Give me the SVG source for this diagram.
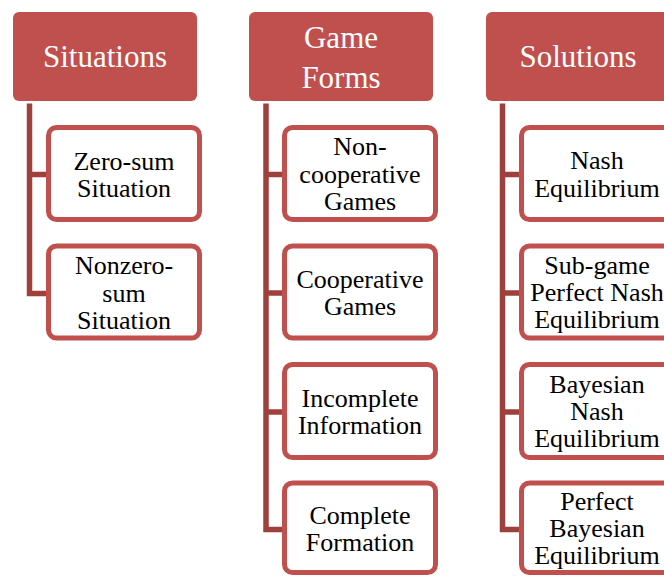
<svg xmlns="http://www.w3.org/2000/svg" width="664" height="576" viewBox="0 0 664 576">
  <style>
    .head rect { fill: #C0504D; }
    .item rect { fill: #FFFFFF; stroke: #C0504D; stroke-width: 5; }
    .links path { fill: none; stroke: #A0403D; stroke-width: 5.5; stroke-linejoin: miter; }
  </style>

  <rect width="664" height="576" fill="#FFFFFF"/>

  <!-- tree connectors: one spine per column with a branch to each item -->
  <g id="connectors" class="links">
    <path d="M29.5 103.5 V293.5 H48 M29.5 174.5 H48"/>
    <path d="M266 103.5 V529.5 H284 M266 174.5 H284 M266 293 H284 M266 412 H284"/>
    <path d="M502.5 103.5 V529.5 H521 M502.5 174.5 H521 M502.5 293 H521 M502.5 412 H521"/>
  </g>

  <!-- column headers -->
  <g id="situations" class="head">
    <rect x="13" y="12" width="184" height="89" rx="6"/>
    <text x="105" y="67" font-family="'Liberation Serif', serif" font-size="31" fill="#FFFFFF" text-anchor="middle">Situations</text>
  </g>
  <g id="game-forms" class="head">
    <rect x="249" y="12" width="184" height="89" rx="6"/>
    <text x="341" y="48" font-family="'Liberation Serif', serif" font-size="31" fill="#FFFFFF" text-anchor="middle">Game</text>
    <text x="341" y="88" font-family="'Liberation Serif', serif" font-size="31" fill="#FFFFFF" text-anchor="middle">Forms</text>
  </g>
  <g id="solutions" class="head">
    <rect x="486" y="12" width="184" height="89" rx="6"/>
    <text x="578" y="67" font-family="'Liberation Serif', serif" font-size="31" fill="#FFFFFF" text-anchor="middle">Solutions</text>
  </g>

  <!-- Situations items -->
  <g id="zero-sum" class="item">
    <rect x="48.5" y="127.5" width="151" height="92" rx="8"/>
    <text x="124" y="170" font-family="'Liberation Serif', serif" font-size="26" text-anchor="middle">Zero-sum</text>
    <text x="124" y="197" font-family="'Liberation Serif', serif" font-size="26" text-anchor="middle">Situation</text>
  </g>
  <g id="nonzero-sum" class="item">
    <rect x="48.5" y="246" width="151" height="92" rx="8"/>
    <text x="124" y="274" font-family="'Liberation Serif', serif" font-size="26" text-anchor="middle">Nonzero-</text>
    <text x="124" y="301.5" font-family="'Liberation Serif', serif" font-size="26" text-anchor="middle">sum</text>
    <text x="124" y="329" font-family="'Liberation Serif', serif" font-size="26" text-anchor="middle">Situation</text>
  </g>

  <!-- Game Forms items -->
  <g id="non-cooperative" class="item">
    <rect x="284.5" y="127.5" width="151" height="92" rx="8"/>
    <text x="360" y="155" font-family="'Liberation Serif', serif" font-size="26" text-anchor="middle">Non-</text>
    <text x="360" y="182.5" font-family="'Liberation Serif', serif" font-size="26" text-anchor="middle">cooperative</text>
    <text x="360" y="210" font-family="'Liberation Serif', serif" font-size="26" text-anchor="middle">Games</text>
  </g>
  <g id="cooperative" class="item">
    <rect x="284.5" y="246" width="151" height="92" rx="8"/>
    <text x="360" y="288" font-family="'Liberation Serif', serif" font-size="26" text-anchor="middle">Cooperative</text>
    <text x="360" y="315" font-family="'Liberation Serif', serif" font-size="26" text-anchor="middle">Games</text>
  </g>
  <g id="incomplete-information" class="item">
    <rect x="284.5" y="364.5" width="151" height="93" rx="8"/>
    <text x="360" y="406.5" font-family="'Liberation Serif', serif" font-size="26" text-anchor="middle">Incomplete</text>
    <text x="360" y="434" font-family="'Liberation Serif', serif" font-size="26" text-anchor="middle">Information</text>
  </g>
  <g id="complete-formation" class="item">
    <rect x="284.5" y="483" width="151" height="89.5" rx="8"/>
    <text x="360" y="523.5" font-family="'Liberation Serif', serif" font-size="26" text-anchor="middle">Complete</text>
    <text x="360" y="551" font-family="'Liberation Serif', serif" font-size="26" text-anchor="middle">Formation</text>
  </g>

  <!-- Solutions items -->
  <g id="nash-equilibrium" class="item">
    <rect x="521.5" y="127.5" width="151" height="92" rx="8"/>
    <text x="597" y="169" font-family="'Liberation Serif', serif" font-size="26" text-anchor="middle">Nash</text>
    <text x="597" y="196.5" font-family="'Liberation Serif', serif" font-size="26" text-anchor="middle">Equilibrium</text>
  </g>
  <g id="subgame-perfect" class="item">
    <rect x="521.5" y="246" width="151" height="92" rx="8"/>
    <text x="597" y="273.5" font-family="'Liberation Serif', serif" font-size="26" text-anchor="middle">Sub-game</text>
    <text x="597" y="300.5" font-family="'Liberation Serif', serif" font-size="26" text-anchor="middle">Perfect Nash</text>
    <text x="597" y="327.5" font-family="'Liberation Serif', serif" font-size="26" text-anchor="middle">Equilibrium</text>
  </g>
  <g id="bayesian-nash" class="item">
    <rect x="521.5" y="364.5" width="151" height="93" rx="8"/>
    <text x="597" y="392.5" font-family="'Liberation Serif', serif" font-size="26" text-anchor="middle">Bayesian</text>
    <text x="597" y="419.5" font-family="'Liberation Serif', serif" font-size="26" text-anchor="middle">Nash</text>
    <text x="597" y="446.5" font-family="'Liberation Serif', serif" font-size="26" text-anchor="middle">Equilibrium</text>
  </g>
  <g id="perfect-bayesian" class="item">
    <rect x="521.5" y="483" width="151" height="89.5" rx="8"/>
    <text x="597" y="510" font-family="'Liberation Serif', serif" font-size="26" text-anchor="middle">Perfect</text>
    <text x="597" y="537" font-family="'Liberation Serif', serif" font-size="26" text-anchor="middle">Bayesian</text>
    <text x="597" y="564" font-family="'Liberation Serif', serif" font-size="26" text-anchor="middle">Equilibrium</text>
  </g>
</svg>
